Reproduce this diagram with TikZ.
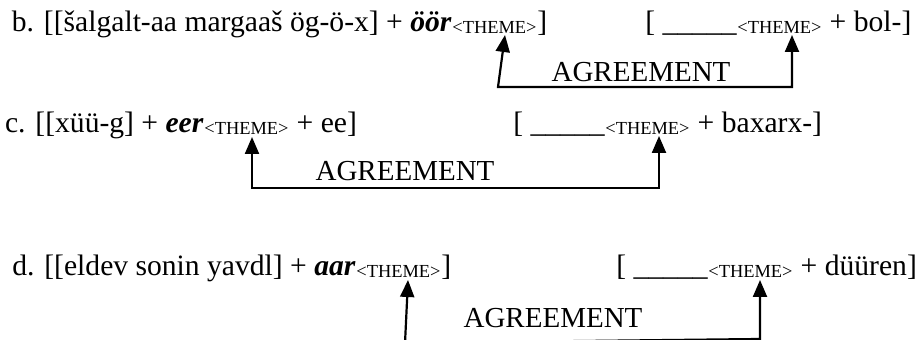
\documentclass[tikz,border=0pt]{standalone}
\usepackage{fontspec}
\setmainfont{Liberation Serif}
\usetikzlibrary{calc, positioning, arrows.meta}

\tikzset{
  gloss/.style={inner sep=0pt, font=\fontsize{14.8}{18}\selectfont},
  theme/.style={inner sep=0pt, font=\fontsize{9.2}{11}\selectfont},
  agr/.style={inner sep=0pt, font=\fontsize{14.5}{17}\selectfont},
  link/.style={line width=1.1pt,
    {Triangle[length=8.5pt,width=7pt]}-{Triangle[length=8.5pt,width=7pt]}},
}
\newcommand{\bi}[1]{\textbf{\textit{#1}}}

\begin{document}
\begin{tikzpicture}[x=0.5pt,y=-0.5pt]
    \useasboundingbox (0,0) rectangle (924,340);

    % riga b
    \node[theme, anchor=base west] (bT1) at (452,34) {<THEME>};
    \node[gloss, anchor=base east] (bL) at ($(bT1.base west)+(0,-2)$) {b. [[šalgalt-aa margaaš ög-ö-x] + \bi{öör}};
    \node[gloss, anchor=base west] (bLe) at ($(bT1.base east)+(0,-2)$) {]};
    \node[theme, anchor=base west] (bT2) at (737,34) {<THEME>};
    \node[gloss, anchor=base east] (bR) at ($(bT2.base west)+(0,-2)$) {[ \_\_\_\_\_};
    \node[gloss, anchor=base west] (bRe) at ($(bT2.base east)+(0,-2)$) {\ + bol-]};
    \node[agr, anchor=base] (bAg) at (641,82) {AGREEMENT};

    % riga c
    \node[theme, anchor=base west] (cT1) at (204,135) {<THEME>};
    \node[gloss, anchor=base east] (cL) at ($(cT1.base west)+(0,-2)$) {c. [[xüü-g] + \bi{eer}};
    \node[gloss, anchor=base west] (cLe) at ($(cT1.base east)+(0,-2)$) {\ + ee]};
    \node[theme, anchor=base west] (cT2) at (605,135) {<THEME>};
    \node[gloss, anchor=base east] (cR) at ($(cT2.base west)+(0,-2)$) {[ \_\_\_\_\_};
    \node[gloss, anchor=base west] (cRe) at ($(cT2.base east)+(0,-2)$) {\ + baxarx-]};
    \node[agr, anchor=base] (cAg) at (405,181) {AGREEMENT};

    % riga d
    \node[theme, anchor=base west] (dT1) at (356,278) {<THEME>};
    \node[gloss, anchor=base east] (dL) at ($(dT1.base west)+(0,-2)$) {d. [[eldev sonin yavdl] + \bi{aar}};
    \node[gloss, anchor=base west] (dLe) at ($(dT1.base east)+(0,-2)$) {]};
    \node[theme, anchor=base west] (dT2) at (708,278) {<THEME>};
    \node[gloss, anchor=base east] (dR) at ($(dT2.base west)+(0,-2)$) {[ \_\_\_\_\_};
    \node[gloss, anchor=base west] (dRe) at ($(dT2.base east)+(0,-2)$) {\ + düüren]};
    \node[agr, anchor=base] (dAg) at (553,328) {AGREEMENT};

    % punte delle frecce
    \coordinate (bA1) at ($(bT1.base west)+(53,1)$);
    \coordinate (bA2) at ($(bT2.base west)+(55,1)$);
    \coordinate (cA1) at ($(cT1.base west)+(48,2)$);
    \coordinate (cA2) at ($(cT2.base west)+(54,1)$);
    \coordinate (dA1) at ($(dT1.base west)+(52,2)$);
    \coordinate (dA2) at ($(dT2.base west)+(52,2)$);

    % angoli
    \coordinate (bK1) at (498,87);
    \coordinate (bK2) at (bA2 |- bK1);
    \coordinate (cK1) at (cA1 |- 0,188);
    \coordinate (cK2) at (cA2 |- cK1);
    \coordinate (dK1) at (405,343);
    \coordinate (dK2) at (dA2 |- 0,339);

    % accordo
    \draw[link] (bA1) -- (bK1) -- (bK2) -- (bA2);
    \draw[link] (cA1) -- (cK1) -- (cK2) -- (cA2);
    \draw[link] (dA1) -- (dK1) -- (dK2) -- (dA2);
\end{tikzpicture}
\end{document}
